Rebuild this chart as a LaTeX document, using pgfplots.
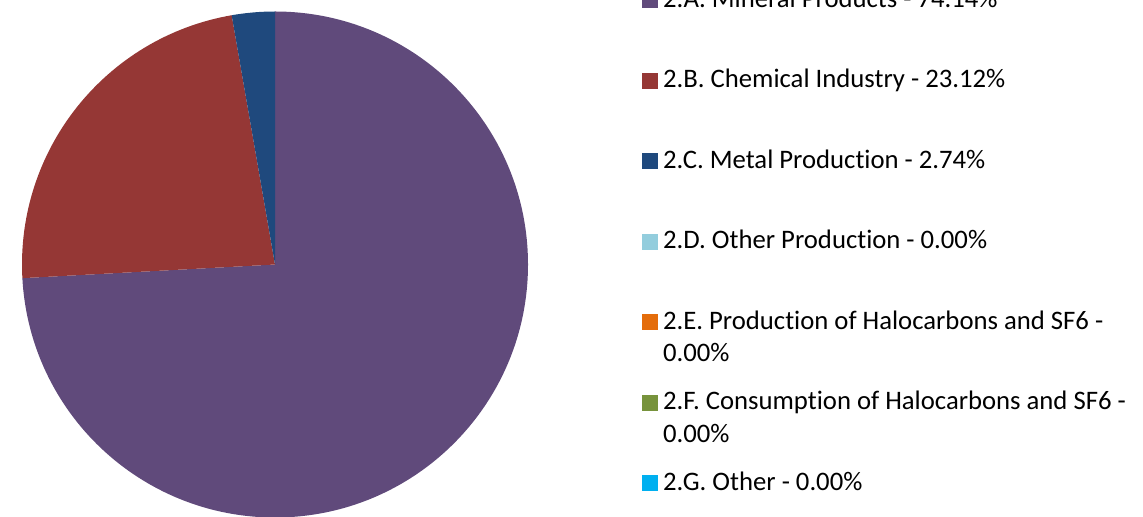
\documentclass[border=0pt]{standalone}
\usepackage{pgfplots}
\usepackage{pgfplotstable}
\pgfplotsset{compat=1.18}
\usepackage{fontspec}
\setmainfont{Carlito}[Ligatures=NoCommon]

\definecolor{mineral}{HTML}{604A7B}
\definecolor{chemical}{HTML}{953735}
\definecolor{metal}{HTML}{1F497D}
\definecolor{otherprod}{HTML}{93CDDD}
\definecolor{halprod}{HTML}{E46C0A}
\definecolor{halcons}{HTML}{77933C}
\definecolor{other}{HTML}{00B0F0}

% shares of the pie, in percent
\pgfplotstableread{
cat value
A 74.14
B 23.12
C 2.74
D 0.00
E 0.00
F 0.00
G 0.00
}\piedata

\pgfplotsset{
  sq legend/.style={legend image code/.code={
    \fill[##1] (0bp,0bp) rectangle (14.7bp,14.7bp);}},
}

\begin{document}
\begin{tikzpicture}
% slices start at 12 o'clock and run clockwise
\pgfplotstablegetelem{0}{value}\of\piedata
\pgfmathsetmacro\angA{90-3.6*\pgfplotsretval}
\pgfplotstablegetelem{1}{value}\of\piedata
\pgfmathsetmacro\angB{\angA-3.6*\pgfplotsretval}
\pgfplotstablegetelem{2}{value}\of\piedata
\pgfmathsetmacro\angC{\angB-3.6*\pgfplotsretval}
\begin{axis}[
  at={(0,0)}, anchor=south west,
  scale only axis, width=1143bp, height=517bp,
  xmin=0, xmax=1143, ymin=0, ymax=517,
  hide axis, clip=false,
  legend cell align=left,
  legend style={
    at={(axis cs:642,527.6)}, anchor=north west,
    draw=none, fill=none, inner sep=0pt, outer sep=0pt,
    font=\fontsize{26.7bp}{32.6bp}\selectfont,
    row sep=56.5bp, column sep=6bp,
    cells={anchor=base west},
    nodes={inner sep=0pt, text height=18bp, text depth=6bp},
  },
]
\fill[mineral] (axis cs:275,252.5) -- ++(90:253bp)
  arc[start angle=90, end angle=\angA, radius=253bp] -- cycle;
\fill[chemical] (axis cs:275,252.5) -- ++(\angA:253bp)
  arc[start angle=\angA, end angle=\angB, radius=253bp] -- cycle;
\fill[metal] (axis cs:275,252.5) -- ++(\angB:253bp)
  arc[start angle=\angB, end angle=\angC, radius=253bp] -- cycle;

\addlegendimage{sq legend, mineral}
\addlegendentry{2.A. Mineral Products - 74.14\%}
\addlegendimage{sq legend, chemical}
\addlegendentry{2.B. Chemical Industry - 23.12\%}
\addlegendimage{sq legend, metal}
\addlegendentry{2.C. Metal Production - 2.74\%}
\addlegendimage{sq legend, otherprod}
\addlegendentry{2.D. Other Production - 0.00\%}
\addlegendimage{sq legend, halprod}
\addlegendentry{\begin{tabular}[t]{@{}l@{}}2.E. Production of Halocarbons and SF6 -\\0.00\%\end{tabular}}
\addlegendimage{sq legend, halcons}
\addlegendentry{\begin{tabular}[t]{@{}l@{}}2.F. Consumption of Halocarbons and SF6 -\\0.00\%\end{tabular}}
\addlegendimage{sq legend, other}
\addlegendentry{2.G. Other - 0.00\%}
\end{axis}
\pgfresetboundingbox
\path[use as bounding box] (0,0) rectangle (1143bp,517bp);
\end{tikzpicture}
\end{document}
